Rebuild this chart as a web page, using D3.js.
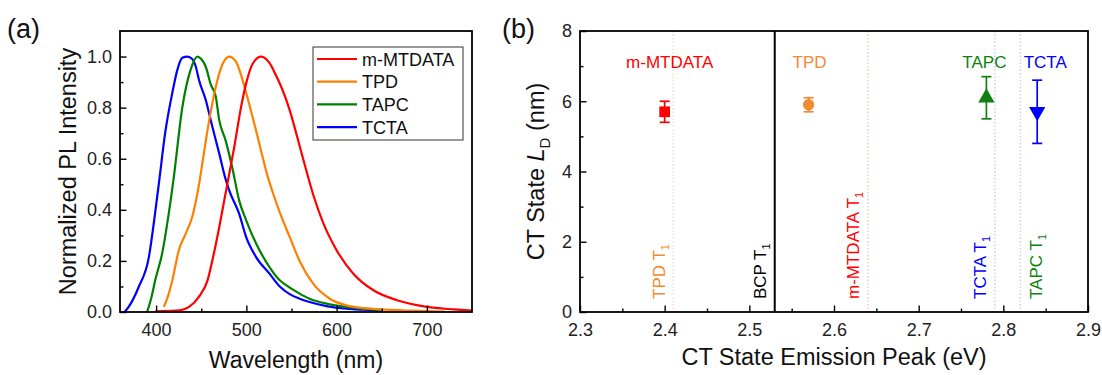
<!DOCTYPE html>
<html>
<head>
<meta charset="utf-8">
<script src="https://cdn.jsdelivr.net/npm/d3@7/dist/d3.min.js"></script>
<style>
  body { margin: 0; background: #fff; }
  svg { display: block; font-family: Arial, "Liberation Sans", sans-serif; }
  .frame { fill: none; stroke: #000; stroke-width: 1.8; }
  .axis path { display: none; }
  .axis line { stroke: #000; stroke-width: 1.4; }
  .axis text { font-size: 18px; fill: #222; font-family: Arial, "Liberation Sans", sans-serif; }
</style>
</head>
<body>
<div id="chart"></div>
<script>
// ---- panel (a): normalized PL spectra (wavelength nm, intensity) ----
var seriesNames = ['m-MTDATA', 'TPD', 'TAPC', 'TCTA'];
var seriesColors = ['#ff0000', '#ff8000', '#008000', '#0000ff'];

var wlMTDATA = [399, 421.6, 430, 436.5, 447.6, 457, 464, 470, 475.5, 481, 486.6, 494, 499.7, 507, 516.4, 525.6, 533, 540, 548, 556, 564, 574, 585, 600, 618.5, 640.8, 667, 700, 730, 750];
var plMTDATA = [0.003, 0.005, 0.01, 0.02, 0.06, 0.124, 0.229, 0.333, 0.437, 0.54, 0.646, 0.8, 0.894, 0.972, 1.0, 0.975, 0.925, 0.87, 0.79, 0.69, 0.585, 0.46, 0.35, 0.242, 0.15, 0.085, 0.046, 0.02, 0.01, 0.005];

var wlTPD = [408.6, 413, 418, 425, 432.8, 440, 447.6, 452, 458.8, 466, 473.6, 481, 488.5, 495.9, 503, 510.8, 518, 523.7, 530, 537, 548, 559, 574, 592.5, 611, 630, 648, 685, 720];
var plTPD = [0.02, 0.06, 0.124, 0.24, 0.307, 0.372, 0.5, 0.6, 0.75, 0.88, 0.97, 1.0, 0.98, 0.907, 0.816, 0.71, 0.607, 0.53, 0.46, 0.39, 0.294, 0.2, 0.111, 0.052, 0.026, 0.015, 0.01, 0.005, 0.002];

var wlTAPC = [390, 395, 399, 406.7, 414, 419.7, 429, 438, 445.7, 450, 455, 460.6, 466, 470, 477, 484.7, 492, 499.7, 510.8, 525.6, 537, 544, 559, 570, 590, 611, 630, 650];
var plTAPC = [0.0, 0.06, 0.124, 0.229, 0.385, 0.53, 0.8, 0.946, 1.0, 0.99, 0.96, 0.89, 0.845, 0.75, 0.672, 0.56, 0.437, 0.36, 0.268, 0.176, 0.124, 0.105, 0.072, 0.052, 0.032, 0.02, 0.013, 0.008];

var wlTCTA = [365, 369.6, 380.7, 392, 399, 404, 410, 417.8, 423.4, 429, 434.6, 440, 444, 447.6, 455, 462.4, 470, 477, 481, 492, 499.7, 510.8, 525.6, 537, 548, 559, 570, 590, 611, 630, 650];
var plTCTA = [0.0, 0.02, 0.098, 0.215, 0.39, 0.53, 0.7, 0.855, 0.946, 0.995, 1.0, 0.99, 0.96, 0.907, 0.83, 0.724, 0.62, 0.52, 0.476, 0.385, 0.294, 0.215, 0.15, 0.1, 0.07, 0.052, 0.039, 0.022, 0.013, 0.009, 0.006];

var wlTicks = [400, 500, 600, 700];
var wlMinorTicks = [450, 550, 650];
var plTicks = [0, 0.2, 0.4, 0.6, 0.8, 1.0];
var plMinorTicks = [0.1, 0.3, 0.5, 0.7, 0.9];

// ---- panel (b): CT state diffusion length vs emission peak ----
var ctNames = ['m-MTDATA', 'TPD', 'TAPC', 'TCTA'];
var ctColors = ['#ff0000', '#f28a30', '#108010', '#0000ff'];
var ctSymbols = ['square', 'circle', 'up', 'down'];
var ctPeak = [2.40, 2.57, 2.78, 2.84];
var ctLD = [5.7, 5.9, 6.1, 5.7];
var ctLow = [5.4, 5.7, 5.5, 4.8];
var ctHigh = [6.0, 6.1, 6.7, 6.6];

var tripletNames = ['TPD', 'BCP', 'm-MTDATA', 'TCTA', 'TAPC'];
var tripletEnergy = [2.41, 2.53, 2.64, 2.79, 2.82];
var tripletColors = ['#f28a30', '#000000', '#ff0000', '#0000ff', '#108010'];
var tripletLineColors = ['#f6c9a8', '#000000', '#f5aaaa', '#b0b0ff', '#a8d0a8'];
var tripletLabelSide = ['left', 'left', 'left', 'left', 'right'];

var eTicks = [2.3, 2.4, 2.5, 2.6, 2.7, 2.8, 2.9];
var eMinorTicks = [2.35, 2.45, 2.55, 2.65, 2.75, 2.85];
var ldTicks = [0, 2, 4, 6, 8];
var ldMinorTicks = [1, 3, 5, 7];

var W = 1102, H = 375;
var svg = d3.select('#chart').append('svg')
  .attr('width', W)
  .attr('height', H);

function frameAxes(g, x, y, xt, xm, yt, ym, fmtX, fmtY, box) {
  g.append('g').attr('class', 'axis')
    .attr('transform', 'translate(0,' + box.bottom + ')')
    .call(d3.axisBottom(x).tickValues(xt).tickSize(-6.5).tickPadding(11).tickFormat(fmtX));
  g.append('g').attr('class', 'axis')
    .attr('transform', 'translate(0,' + box.bottom + ')')
    .call(d3.axisBottom(x).tickValues(xm).tickSize(-3.5).tickFormat(''));
  g.append('g').attr('class', 'axis')
    .attr('transform', 'translate(' + box.left + ',0)')
    .call(d3.axisLeft(y).tickValues(yt).tickSize(-6.5).tickPadding(8).tickFormat(fmtY));
  g.append('g').attr('class', 'axis')
    .attr('transform', 'translate(' + box.left + ',0)')
    .call(d3.axisLeft(y).tickValues(ym).tickSize(-3.5).tickFormat(''));
  g.append('rect').attr('class', 'frame')
    .attr('x', box.left).attr('y', box.top)
    .attr('width', box.right - box.left).attr('height', box.bottom - box.top);
}

// ================= panel (a) =================
var boxA = { left: 120, right: 472, top: 31, bottom: 312 };
var xA = d3.scaleLinear().domain([360, 750]).range([boxA.left, boxA.right]);
var yA = d3.scaleLinear().domain([0, 1.1]).range([boxA.bottom, boxA.top]);
var gA = svg.append('g');

svg.append('clipPath').attr('id', 'clipA')
  .append('rect')
  .attr('x', boxA.left).attr('y', boxA.top)
  .attr('width', boxA.right - boxA.left).attr('height', boxA.bottom - boxA.top);

var spectra = [
  { wl: wlMTDATA, pl: plMTDATA },
  { wl: wlTPD, pl: plTPD },
  { wl: wlTAPC, pl: plTAPC },
  { wl: wlTCTA, pl: plTCTA }
];

var line = d3.line()
  .x(function(d) { return xA(d[0]); })
  .y(function(d) { return yA(d[1]); })
  .curve(d3.curveMonotoneX);

// draw in reverse so red ends up on top
spectra.slice().reverse().forEach(function(s, k) {
  var i = spectra.length - 1 - k;
  gA.append('path')
    .datum(d3.zip(s.wl, s.pl))
    .attr('clip-path', 'url(#clipA)')
    .attr('fill', 'none')
    .attr('stroke', seriesColors[i])
    .attr('stroke-width', 2.2)
    .attr('stroke-linejoin', 'round')
    .attr('d', line);
});

frameAxes(gA, xA, yA, wlTicks, wlMinorTicks, plTicks, plMinorTicks,
  d3.format('d'), d3.format('.1f'), boxA);

// legend
var legA = gA.append('g');
legA.append('rect')
  .attr('x', 313).attr('y', 47)
  .attr('width', 150).attr('height', 93)
  .attr('fill', '#fff').attr('stroke', '#333').attr('stroke-width', 1);
seriesNames.forEach(function(name, i) {
  var yy = 59 + i * 22.7;
  legA.append('line')
    .attr('x1', 317).attr('x2', 357)
    .attr('y1', yy).attr('y2', yy)
    .attr('stroke', seriesColors[i]).attr('stroke-width', 2.2);
  legA.append('text')
    .attr('x', 362).attr('y', yy + 6.5)
    .attr('font-size', 18).attr('fill', '#111')
    .text(name);
});

gA.append('text')
  .attr('transform', 'translate(76,' + ((boxA.top + boxA.bottom) / 2) + ') rotate(-90)')
  .attr('text-anchor', 'middle')
  .attr('font-size', 23.5).attr('fill', '#111')
  .text('Normalized PL Intensity');
gA.append('text')
  .attr('x', (boxA.left + boxA.right) / 2).attr('y', 368)
  .attr('text-anchor', 'middle')
  .attr('font-size', 23).attr('fill', '#111')
  .text('Wavelength (nm)');
gA.append('text')
  .attr('x', 7).attr('y', 38)
  .attr('font-size', 27).attr('fill', '#111')
  .text('(a)');

// ================= panel (b) =================
var boxB = { left: 580, right: 1088, top: 31, bottom: 312 };
var xB = d3.scaleLinear().domain([2.3, 2.9]).range([boxB.left, boxB.right]);
var yB = d3.scaleLinear().domain([0, 8]).range([boxB.bottom, boxB.top]);
var gB = svg.append('g');

// triplet energy lines
tripletEnergy.forEach(function(e, i) {
  var solid = tripletNames[i] === 'BCP';
  gB.append('line')
    .attr('x1', xB(e)).attr('x2', xB(e))
    .attr('y1', boxB.top).attr('y2', boxB.bottom)
    .attr('stroke', tripletLineColors[i])
    .attr('stroke-width', solid ? 2 : 1)
    .attr('stroke-dasharray', solid ? null : '1.5,2');

  var lx = tripletLabelSide[i] === 'left' ? xB(e) - 8.5 : xB(e) + 21.5;
  var t = gB.append('text')
    .attr('transform', 'translate(' + lx + ',299) rotate(-90)')
    .attr('font-size', 17)
    .attr('fill', tripletColors[i]);
  t.append('tspan').text(tripletNames[i] + ' T');
  t.append('tspan').attr('font-size', 11).attr('dy', 4).text('1');
});

// error bars and markers
var sym = {
  square: d3.symbol().type(d3.symbolSquare).size(115),
  circle: d3.symbol().type(d3.symbolCircle).size(100),
  up: d3.symbol().type(d3.symbolTriangle).size(115),
  down: d3.symbol().type(d3.symbolTriangle).size(115)
};
ctPeak.forEach(function(p, i) {
  var cx = xB(p);
  var col = ctColors[i];
  gB.append('line')
    .attr('x1', cx).attr('x2', cx)
    .attr('y1', yB(ctLow[i])).attr('y2', yB(ctHigh[i]))
    .attr('stroke', col).attr('stroke-width', 1.7);
  [ctLow[i], ctHigh[i]].forEach(function(v) {
    gB.append('line')
      .attr('x1', cx - 5).attr('x2', cx + 5)
      .attr('y1', yB(v)).attr('y2', yB(v))
      .attr('stroke', col).attr('stroke-width', 1.7);
  });
  var rot = ctSymbols[i] === 'down' ? ' rotate(180)' : '';
  gB.append('path')
    .attr('d', sym[ctSymbols[i]]())
    .attr('transform', 'translate(' + cx + ',' + yB(ctLD[i]) + ')' + rot)
    .attr('fill', col);

  var dx = { 'm-MTDATA': 5, 'TPD': 1, 'TAPC': -2, 'TCTA': 8 }[ctNames[i]];
  gB.append('text')
    .attr('x', cx + dx)
    .attr('y', 68)
    .attr('text-anchor', 'middle')
    .attr('font-size', 17)
    .attr('fill', col)
    .text(ctNames[i]);
});

frameAxes(gB, xB, yB, eTicks, eMinorTicks, ldTicks, ldMinorTicks,
  d3.format('.1f'), d3.format('d'), boxB);

var yl = gB.append('text')
  .attr('transform', 'translate(544,' + ((boxB.top + boxB.bottom) / 2) + ') rotate(-90)')
  .attr('text-anchor', 'middle')
  .attr('font-size', 23.5).attr('fill', '#111');
yl.append('tspan').text('CT State ');
yl.append('tspan').attr('font-style', 'italic').text('L');
yl.append('tspan').attr('font-size', 15).attr('dy', 6).text('D');
yl.append('tspan').attr('dy', -6).text(' (nm)');

gB.append('text')
  .attr('x', (boxB.left + boxB.right) / 2).attr('y', 365)
  .attr('text-anchor', 'middle')
  .attr('font-size', 23.5).attr('fill', '#111')
  .text('CT State Emission Peak (eV)');
gB.append('text')
  .attr('x', 502).attr('y', 38)
  .attr('font-size', 27).attr('fill', '#111')
  .text('(b)');
</script>
</body>
</html>
